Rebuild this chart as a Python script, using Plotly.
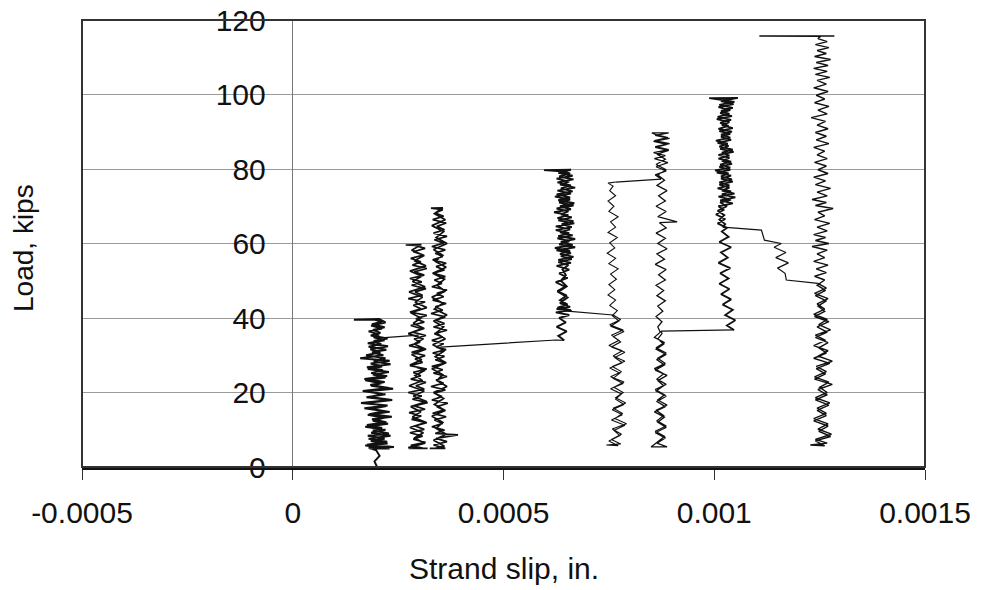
import plotly.graph_objects as go

# ---- data: (strand slip [in.], load [kips]) ----
col1 = [
    (2.00e-4, 0.0), (1.94e-4, 1.5), (2.06e-4, 3.0), (1.98e-4, 4.5),
    (1.80e-4, 5.2), (2.30e-4, 5.0), (1.72e-4, 5.8), (2.25e-4, 6.3), (1.85e-4, 7.0), (2.18e-4, 7.6),
    (1.78e-4, 8.4), (2.28e-4, 9.0), (1.90e-4, 9.8), (2.12e-4, 10.5), (1.76e-4, 11.3), (2.22e-4, 12.0),
    (1.88e-4, 12.8), (2.35e-4, 13.5), (1.82e-4, 14.2), (2.15e-4, 15.0), (1.70e-4, 15.8), (2.25e-4, 16.5),
    (1.62e-4, 17.2), (2.30e-4, 18.0), (1.75e-4, 18.7), (2.20e-4, 19.5), (1.80e-4, 20.3), (2.38e-4, 21.0),
    (1.86e-4, 21.8), (2.10e-4, 22.5), (1.72e-4, 23.3), (2.20e-4, 24.0), (1.90e-4, 24.8), (2.28e-4, 25.5),
    (1.78e-4, 26.3), (2.12e-4, 27.0), (1.85e-4, 27.8), (2.30e-4, 28.5), (1.60e-4, 29.2), (2.15e-4, 30.0),
    (1.88e-4, 30.8), (2.22e-4, 31.5), (1.80e-4, 32.3), (2.10e-4, 33.0), (1.92e-4, 33.8), (2.25e-4, 34.5),
    (1.85e-4, 35.3), (2.08e-4, 36.0), (1.90e-4, 36.8), (2.18e-4, 37.5), (1.88e-4, 38.3), (2.12e-4, 39.0),
    (1.95e-4, 39.5), (1.45e-4, 39.5), (2.05e-4, 39.7),
    (2.20e-4, 38.8), (1.86e-4, 38.0), (2.12e-4, 37.2), (1.80e-4, 36.4), (2.05e-4, 35.6), (1.92e-4, 34.8),
    (2.18e-4, 34.0), (1.78e-4, 33.2), (2.26e-4, 32.4), (1.84e-4, 31.6), (2.08e-4, 30.8), (1.74e-4, 30.0),
    (2.20e-4, 29.2), (1.92e-4, 28.4), (2.32e-4, 27.6), (1.76e-4, 26.8), (2.14e-4, 26.0), (1.86e-4, 25.2),
    (2.24e-4, 24.4), (1.70e-4, 23.6), (2.18e-4, 22.8), (1.84e-4, 22.0), (2.28e-4, 21.2), (1.66e-4, 20.4),
    (2.14e-4, 19.6), (1.82e-4, 18.8), (2.36e-4, 18.0), (1.74e-4, 17.2), (2.22e-4, 16.4), (1.88e-4, 15.6),
    (2.30e-4, 14.8), (1.78e-4, 14.0), (2.16e-4, 13.2), (1.90e-4, 12.4), (2.26e-4, 11.6), (1.72e-4, 10.8),
    (2.20e-4, 10.0), (1.86e-4, 9.2), (2.32e-4, 8.4), (1.80e-4, 7.6), (2.24e-4, 6.8), (1.76e-4, 6.0),
    (2.40e-4, 5.4), (1.82e-4, 5.0), (2.20e-4, 5.0),
]
link12 = [(2.02e-4, 34.6), (2.99e-4, 35.4)]

col2 = [
    (2.75e-4, 5.0), (3.10e-4, 5.0), (2.80e-4, 5.8), (3.15e-4, 6.6), (2.86e-4, 7.5), (3.08e-4, 8.3),
    (2.78e-4, 9.2), (3.12e-4, 10.1), (2.90e-4, 11.0), (3.18e-4, 11.9), (2.82e-4, 12.8), (3.05e-4, 13.7),
    (2.76e-4, 14.6), (3.14e-4, 15.5), (2.88e-4, 16.4), (3.20e-4, 17.3), (2.84e-4, 18.2), (3.06e-4, 19.1),
    (2.74e-4, 20.0), (3.12e-4, 20.9), (2.92e-4, 21.8), (3.16e-4, 22.7), (2.80e-4, 23.6), (3.04e-4, 24.5),
    (2.86e-4, 25.4), (3.18e-4, 26.3), (2.78e-4, 27.2), (3.08e-4, 28.1), (2.90e-4, 29.0), (3.14e-4, 29.9),
    (2.82e-4, 30.8), (3.10e-4, 31.7), (2.76e-4, 32.6), (3.02e-4, 33.5), (2.88e-4, 34.4), (3.16e-4, 35.3),
    (2.84e-4, 36.2), (3.06e-4, 37.1), (2.80e-4, 38.0), (3.12e-4, 38.9), (2.92e-4, 39.8), (3.18e-4, 40.7),
    (2.78e-4, 41.6), (3.04e-4, 42.5), (2.86e-4, 43.4), (3.14e-4, 44.3), (2.74e-4, 45.2), (3.08e-4, 46.1),
    (2.90e-4, 47.0), (3.16e-4, 47.9), (2.82e-4, 48.8), (3.06e-4, 49.7), (2.78e-4, 50.6), (3.12e-4, 51.5),
    (2.88e-4, 52.4), (3.18e-4, 53.3), (2.84e-4, 54.2), (3.04e-4, 55.1), (2.80e-4, 56.0), (3.10e-4, 56.9),
    (2.86e-4, 57.8), (3.14e-4, 58.7), (2.90e-4, 59.5), (2.68e-4, 59.6), (3.05e-4, 59.7),
    (2.82e-4, 58.2), (3.12e-4, 56.8), (2.88e-4, 55.4), (3.16e-4, 54.0), (2.78e-4, 52.6), (3.06e-4, 51.2),
    (2.84e-4, 49.8), (3.14e-4, 48.4), (2.76e-4, 47.0), (3.08e-4, 45.6), (2.90e-4, 44.2), (3.18e-4, 42.8),
    (2.80e-4, 41.4), (3.04e-4, 40.0), (2.86e-4, 38.6), (3.12e-4, 37.2), (2.74e-4, 35.8), (3.10e-4, 34.4),
    (2.88e-4, 33.0), (3.16e-4, 31.6), (2.82e-4, 30.2), (3.06e-4, 28.8), (2.78e-4, 27.4), (3.14e-4, 26.0),
    (2.90e-4, 24.6), (3.08e-4, 23.2), (2.76e-4, 21.8), (3.12e-4, 20.4), (2.86e-4, 19.0), (3.18e-4, 17.6),
    (2.80e-4, 16.2), (3.04e-4, 14.8), (2.84e-4, 13.4), (3.16e-4, 12.0), (2.78e-4, 10.6), (3.10e-4, 9.2),
    (2.88e-4, 7.8), (3.14e-4, 6.4), (2.74e-4, 5.2), (3.20e-4, 5.0),
]

col3 = [
    (3.25e-4, 5.0), (3.62e-4, 5.0), (3.34e-4, 5.9), (3.66e-4, 6.8), (3.40e-4, 7.7), (3.92e-4, 8.6),
    (3.38e-4, 9.0), (3.60e-4, 9.9), (3.30e-4, 10.8), (3.56e-4, 11.7), (3.36e-4, 12.6), (3.64e-4, 13.5),
    (3.32e-4, 14.4), (3.58e-4, 15.3), (3.42e-4, 16.2), (3.68e-4, 17.1), (3.30e-4, 18.0), (3.54e-4, 18.9),
    (3.36e-4, 19.8), (3.62e-4, 20.7), (3.28e-4, 21.6), (3.58e-4, 22.5), (3.40e-4, 23.4), (3.66e-4, 24.3),
    (3.34e-4, 25.2), (3.56e-4, 26.1), (3.30e-4, 27.0), (3.62e-4, 27.9), (3.38e-4, 28.8), (3.60e-4, 29.7),
    (3.32e-4, 30.6), (3.64e-4, 31.5), (3.40e-4, 32.2), (3.58e-4, 33.1), (3.30e-4, 34.0), (3.56e-4, 34.9),
    (3.36e-4, 35.8), (3.66e-4, 36.7), (3.34e-4, 37.6), (3.60e-4, 38.5), (3.40e-4, 39.4), (3.62e-4, 40.3),
    (3.28e-4, 41.2), (3.56e-4, 42.1), (3.38e-4, 43.0), (3.64e-4, 43.9), (3.32e-4, 44.8), (3.58e-4, 45.7),
    (3.42e-4, 46.6), (3.66e-4, 47.5), (3.30e-4, 48.4), (3.54e-4, 49.3), (3.36e-4, 50.2), (3.62e-4, 51.1),
    (3.34e-4, 52.0), (3.60e-4, 52.9), (3.40e-4, 53.8), (3.64e-4, 54.7), (3.32e-4, 55.6), (3.56e-4, 56.5),
    (3.38e-4, 57.4), (3.62e-4, 58.3), (3.30e-4, 59.2), (3.58e-4, 60.1), (3.36e-4, 61.0), (3.66e-4, 61.9),
    (3.34e-4, 62.8), (3.60e-4, 63.7), (3.42e-4, 64.6), (3.64e-4, 65.5), (3.32e-4, 66.4), (3.58e-4, 67.3),
    (3.38e-4, 68.2), (3.56e-4, 69.1), (3.28e-4, 69.5), (3.56e-4, 69.6),
    (3.36e-4, 68.0), (3.62e-4, 66.4), (3.30e-4, 64.8), (3.58e-4, 63.2), (3.40e-4, 61.6), (3.66e-4, 60.0),
    (3.34e-4, 58.4), (3.56e-4, 56.8), (3.38e-4, 55.2), (3.64e-4, 53.6), (3.32e-4, 52.0), (3.60e-4, 50.4),
    (3.42e-4, 48.8), (3.62e-4, 47.2), (3.30e-4, 45.6), (3.56e-4, 44.0), (3.36e-4, 42.4), (3.66e-4, 40.8),
    (3.34e-4, 39.2), (3.58e-4, 37.6), (3.40e-4, 36.0), (3.62e-4, 34.4), (3.32e-4, 32.8), (3.60e-4, 31.2),
    (3.38e-4, 29.6), (3.64e-4, 28.0), (3.30e-4, 26.4), (3.56e-4, 24.8), (3.42e-4, 23.2), (3.66e-4, 21.6),
    (3.34e-4, 20.0), (3.58e-4, 18.4), (3.36e-4, 16.8), (3.62e-4, 15.2), (3.30e-4, 13.6), (3.56e-4, 12.0),
    (3.40e-4, 10.4), (3.64e-4, 8.8), (3.34e-4, 7.2), (3.60e-4, 5.6), (3.38e-4, 5.0),
]
link34 = [(3.50e-4, 32.2), (6.25e-4, 34.1), (6.44e-4, 34.0)]

col4 = [
    (6.44e-4, 34.0), (6.30e-4, 35.2), (6.50e-4, 36.4), (6.26e-4, 37.6), (6.48e-4, 38.8), (6.32e-4, 40.0),
    (6.56e-4, 40.8), (6.24e-4, 41.5), (6.60e-4, 42.1), (6.28e-4, 42.8), (6.52e-4, 43.6), (6.34e-4, 44.8),
    (6.50e-4, 46.0), (6.28e-4, 47.2), (6.46e-4, 48.4), (6.24e-4, 49.6), (6.52e-4, 50.8), (6.32e-4, 52.0),
    (6.56e-4, 53.0), (6.26e-4, 54.0), (6.60e-4, 54.8), (6.30e-4, 55.6), (6.66e-4, 56.4), (6.34e-4, 57.2),
    (6.58e-4, 58.0), (6.22e-4, 58.8), (6.64e-4, 59.6), (6.36e-4, 60.4), (6.70e-4, 61.2), (6.30e-4, 62.0),
    (6.56e-4, 62.8), (6.24e-4, 63.6), (6.62e-4, 64.4), (6.38e-4, 65.2), (6.66e-4, 66.0), (6.28e-4, 66.8),
    (6.54e-4, 67.6), (6.20e-4, 68.4), (6.60e-4, 69.2), (6.34e-4, 70.0), (6.68e-4, 70.8), (6.30e-4, 71.6),
    (6.58e-4, 72.4), (6.26e-4, 73.2), (6.64e-4, 74.0), (6.36e-4, 74.8), (6.60e-4, 75.6), (6.28e-4, 76.4),
    (6.66e-4, 77.2), (6.32e-4, 78.0), (6.58e-4, 78.8), (6.36e-4, 79.4), (5.96e-4, 79.7), (6.60e-4, 79.8),
    (6.30e-4, 79.0), (6.64e-4, 78.2), (6.26e-4, 77.4), (6.56e-4, 76.6), (6.34e-4, 75.8), (6.70e-4, 75.0),
    (6.28e-4, 74.2), (6.60e-4, 73.4), (6.22e-4, 72.6), (6.58e-4, 71.8), (6.32e-4, 71.0), (6.66e-4, 70.2),
    (6.26e-4, 69.4), (6.54e-4, 68.6), (6.36e-4, 67.8), (6.62e-4, 67.0), (6.30e-4, 66.2), (6.68e-4, 65.4),
    (6.24e-4, 64.6), (6.58e-4, 63.8), (6.34e-4, 63.0), (6.64e-4, 62.2), (6.28e-4, 61.4), (6.56e-4, 60.6),
    (6.32e-4, 59.8), (6.70e-4, 59.0), (6.26e-4, 58.2), (6.60e-4, 57.4), (6.36e-4, 56.6), (6.62e-4, 55.8),
    (6.30e-4, 55.0), (6.54e-4, 54.2), (6.40e-4, 53.0), (6.48e-4, 51.5), (6.36e-4, 50.0), (6.50e-4, 48.5),
    (6.30e-4, 47.0), (6.52e-4, 45.5), (6.34e-4, 44.0), (6.58e-4, 43.0), (6.26e-4, 42.4), (6.62e-4, 41.9),
]
link45 = [(6.44e-4, 41.9), (7.60e-4, 40.8)]

col5 = [
    (7.60e-4, 40.8), (7.78e-4, 39.6), (7.52e-4, 38.2), (7.84e-4, 36.8), (7.56e-4, 35.4), (7.74e-4, 34.0),
    (7.50e-4, 32.6), (7.82e-4, 31.2), (7.60e-4, 29.8), (7.88e-4, 28.4), (7.58e-4, 27.0), (7.80e-4, 25.6),
    (7.54e-4, 24.2), (7.86e-4, 22.8), (7.62e-4, 21.4), (7.84e-4, 20.0), (7.66e-4, 18.6), (7.90e-4, 17.2),
    (7.60e-4, 15.8), (7.82e-4, 14.4), (7.64e-4, 13.0), (7.92e-4, 11.6), (7.58e-4, 10.2), (7.80e-4, 8.8),
    (7.56e-4, 7.4), (7.78e-4, 6.2), (7.44e-4, 5.9), (7.72e-4, 5.7),
    (7.50e-4, 7.0), (7.76e-4, 8.4), (7.62e-4, 9.8), (7.88e-4, 11.2), (7.56e-4, 12.6), (7.82e-4, 14.0),
    (7.58e-4, 15.4), (7.86e-4, 16.8), (7.66e-4, 18.2), (7.80e-4, 19.6), (7.54e-4, 21.0), (7.84e-4, 22.4),
    (7.60e-4, 23.8), (7.76e-4, 25.2), (7.52e-4, 26.6), (7.82e-4, 28.0), (7.64e-4, 29.4), (7.88e-4, 30.8),
    (7.56e-4, 32.2), (7.78e-4, 33.6), (7.60e-4, 35.0), (7.86e-4, 36.4), (7.54e-4, 37.8), (7.74e-4, 39.2),
    (7.58e-4, 40.6), (7.70e-4, 42.0), (7.52e-4, 43.4), (7.66e-4, 44.8), (7.48e-4, 46.2), (7.64e-4, 47.6),
    (7.50e-4, 49.0), (7.68e-4, 50.4), (7.54e-4, 51.8), (7.72e-4, 53.2), (7.50e-4, 54.6), (7.66e-4, 56.0),
    (7.46e-4, 57.4), (7.64e-4, 58.8), (7.52e-4, 60.2), (7.70e-4, 61.6), (7.48e-4, 63.0), (7.66e-4, 64.4),
    (7.54e-4, 65.8), (7.72e-4, 67.2), (7.50e-4, 68.6), (7.62e-4, 70.0), (7.48e-4, 71.4), (7.66e-4, 72.8),
    (7.52e-4, 74.2), (7.60e-4, 75.4), (7.48e-4, 76.2), (7.66e-4, 76.5),
]
link56 = [(7.66e-4, 76.5), (8.74e-4, 77.3)]

col6 = [
    (8.74e-4, 77.3), (8.60e-4, 78.4), (8.86e-4, 79.5), (8.62e-4, 80.6), (8.90e-4, 81.7), (8.58e-4, 82.8),
    (8.84e-4, 83.6), (8.56e-4, 84.4), (8.92e-4, 85.2), (8.60e-4, 86.0), (8.94e-4, 86.8), (8.58e-4, 87.6),
    (8.90e-4, 88.4), (8.62e-4, 89.2), (8.52e-4, 89.7), (8.92e-4, 89.7),
    (8.60e-4, 89.0), (8.94e-4, 88.2), (8.56e-4, 87.4), (8.88e-4, 86.6), (8.60e-4, 85.8), (8.92e-4, 85.0),
    (8.64e-4, 84.0), (8.84e-4, 82.6), (8.62e-4, 81.2), (8.86e-4, 79.8), (8.66e-4, 78.4), (8.82e-4, 77.0),
    (8.64e-4, 75.6), (8.88e-4, 74.2), (8.68e-4, 72.8), (8.84e-4, 71.4), (8.62e-4, 70.0), (8.86e-4, 68.6),
    (8.66e-4, 67.2), (9.12e-4, 65.8), (8.70e-4, 65.6), (8.86e-4, 64.2), (8.62e-4, 62.8), (8.84e-4, 61.4),
    (8.66e-4, 60.0), (8.88e-4, 58.6), (8.64e-4, 57.2), (8.82e-4, 55.8), (8.60e-4, 54.4), (8.86e-4, 53.0),
    (8.68e-4, 51.6), (8.84e-4, 50.2), (8.62e-4, 48.8), (8.80e-4, 47.4), (8.64e-4, 46.0), (8.84e-4, 44.6),
    (8.66e-4, 43.2), (8.78e-4, 41.8), (8.62e-4, 40.4), (8.76e-4, 39.0), (8.66e-4, 37.6), (8.72e-4, 36.2),
    (8.58e-4, 34.8), (8.82e-4, 33.4), (8.62e-4, 32.0), (8.86e-4, 30.6), (8.66e-4, 29.2), (8.84e-4, 27.8),
    (8.58e-4, 26.4), (8.80e-4, 25.0), (8.64e-4, 23.6), (8.86e-4, 22.2), (8.60e-4, 20.8), (8.82e-4, 19.4),
    (8.66e-4, 18.0), (8.88e-4, 16.6), (8.62e-4, 15.2), (8.80e-4, 13.8), (8.64e-4, 12.4), (8.86e-4, 11.0),
    (8.60e-4, 9.6), (8.82e-4, 8.2), (8.66e-4, 6.8), (8.50e-4, 5.4), (8.88e-4, 5.4),
    (8.64e-4, 6.4), (8.84e-4, 7.8), (8.60e-4, 9.2), (8.86e-4, 10.6), (8.66e-4, 12.0), (8.82e-4, 13.4),
    (8.58e-4, 14.8), (8.84e-4, 16.2), (8.64e-4, 17.6), (8.86e-4, 19.0), (8.62e-4, 20.4), (8.80e-4, 21.8),
    (8.66e-4, 23.2), (8.88e-4, 24.6), (8.60e-4, 26.0), (8.82e-4, 27.4), (8.64e-4, 28.8), (8.86e-4, 30.2),
    (8.62e-4, 31.6), (8.80e-4, 33.0), (8.66e-4, 34.4), (8.76e-4, 35.8), (8.74e-4, 36.5),
]
link67 = [(8.74e-4, 36.5), (1.047e-3, 36.8)]

col7 = [
    (1.047e-3, 36.8), (1.030e-3, 38.0), (1.050e-3, 39.4), (1.026e-3, 40.8), (1.044e-3, 42.2), (1.020e-3, 43.6),
    (1.040e-3, 45.0), (1.016e-3, 46.4), (1.036e-3, 47.8), (1.012e-3, 49.2), (1.034e-3, 50.6), (1.014e-3, 52.0),
    (1.038e-3, 53.4), (1.010e-3, 54.8), (1.032e-3, 56.2), (1.016e-3, 57.6), (1.040e-3, 59.0), (1.012e-3, 60.4),
    (1.034e-3, 61.8), (1.018e-3, 63.2), (1.030e-3, 64.2), (1.008e-3, 65.4), (1.026e-3, 66.6), (1.004e-3, 67.8),
    (1.022e-3, 69.0), (1.010e-3, 70.0), (1.044e-3, 70.8), (1.014e-3, 71.6), (1.050e-3, 72.4), (1.018e-3, 73.2),
    (1.040e-3, 74.0), (1.008e-3, 74.8), (1.036e-3, 75.6), (1.012e-3, 76.4), (1.042e-3, 77.2), (1.016e-3, 78.0),
    (1.034e-3, 78.8), (1.002e-3, 79.6), (1.038e-3, 80.4), (1.014e-3, 81.2), (1.040e-3, 82.0), (1.010e-3, 82.8),
    (1.036e-3, 83.6), (1.018e-3, 84.4), (1.044e-3, 85.2), (1.012e-3, 86.0), (1.032e-3, 86.8), (1.004e-3, 87.6),
    (1.038e-3, 88.4), (1.016e-3, 89.2), (1.042e-3, 90.0), (1.010e-3, 90.8), (1.034e-3, 91.6), (1.014e-3, 92.4),
    (1.040e-3, 93.2), (1.008e-3, 94.0), (1.036e-3, 94.8), (1.016e-3, 95.6), (1.044e-3, 96.4), (1.012e-3, 97.2),
    (1.048e-3, 98.0), (1.018e-3, 98.6), (9.88e-4, 99.0), (1.056e-3, 99.1),
    (1.016e-3, 98.2), (1.046e-3, 97.4), (1.010e-3, 96.6), (1.038e-3, 95.8), (1.014e-3, 95.0), (1.042e-3, 94.2),
    (1.006e-3, 93.4), (1.036e-3, 92.6), (1.018e-3, 91.8), (1.044e-3, 91.0), (1.012e-3, 90.2), (1.038e-3, 89.4),
    (1.016e-3, 88.6), (1.040e-3, 87.8), (1.008e-3, 87.0), (1.034e-3, 86.2), (1.014e-3, 85.4), (1.046e-3, 84.6),
    (1.010e-3, 83.8), (1.036e-3, 83.0), (1.018e-3, 82.2), (1.042e-3, 81.4), (1.012e-3, 80.6), (1.038e-3, 79.8),
    (1.006e-3, 79.0), (1.040e-3, 78.2), (1.016e-3, 77.4), (1.044e-3, 76.6), (1.012e-3, 75.8), (1.036e-3, 75.0),
    (1.018e-3, 74.2), (1.048e-3, 73.4), (1.010e-3, 72.6), (1.040e-3, 71.8), (1.014e-3, 71.0), (1.030e-3, 70.0),
    (1.008e-3, 68.8), (1.024e-3, 67.6), (1.012e-3, 66.4), (1.026e-3, 65.2), (1.020e-3, 64.4),
]
link78 = [
    (1.020e-3, 64.4), (1.112e-3, 63.6), (1.119e-3, 60.9), (1.159e-3, 60.0), (1.142e-3, 59.0),
    (1.170e-3, 57.6), (1.146e-3, 56.2), (1.176e-3, 54.8), (1.150e-3, 53.4), (1.168e-3, 52.0),
    (1.171e-3, 50.2), (1.246e-3, 49.3),
]

col8 = [
    (1.246e-3, 49.3), (1.266e-3, 48.0), (1.238e-3, 46.6), (1.270e-3, 45.2), (1.244e-3, 43.8), (1.262e-3, 42.4),
    (1.236e-3, 41.0), (1.268e-3, 39.6), (1.248e-3, 38.2), (1.276e-3, 36.8), (1.240e-3, 35.4), (1.264e-3, 34.0),
    (1.236e-3, 32.6), (1.270e-3, 31.2), (1.246e-3, 29.8), (1.280e-3, 28.4), (1.242e-3, 27.0), (1.266e-3, 25.6),
    (1.238e-3, 24.2), (1.272e-3, 22.8), (1.250e-3, 21.4), (1.268e-3, 20.0), (1.240e-3, 18.6), (1.274e-3, 17.2),
    (1.244e-3, 15.8), (1.266e-3, 14.4), (1.236e-3, 13.0), (1.270e-3, 11.6), (1.246e-3, 10.2), (1.278e-3, 8.8),
    (1.240e-3, 7.4), (1.268e-3, 6.4), (1.228e-3, 5.9), (1.262e-3, 5.7),
    (1.240e-3, 7.0), (1.276e-3, 8.2), (1.248e-3, 9.6), (1.270e-3, 11.0), (1.236e-3, 12.4), (1.266e-3, 13.8),
    (1.244e-3, 15.2), (1.272e-3, 16.6), (1.240e-3, 18.0), (1.268e-3, 19.4), (1.246e-3, 20.8), (1.280e-3, 22.2),
    (1.238e-3, 23.6), (1.264e-3, 25.0), (1.242e-3, 26.4), (1.274e-3, 27.8), (1.236e-3, 29.2), (1.266e-3, 30.6),
    (1.248e-3, 32.0), (1.270e-3, 33.4), (1.240e-3, 34.8), (1.268e-3, 36.2), (1.244e-3, 37.6), (1.272e-3, 39.0),
    (1.238e-3, 40.4), (1.262e-3, 41.8), (1.246e-3, 43.2), (1.266e-3, 44.6), (1.240e-3, 46.0), (1.264e-3, 47.4),
    (1.244e-3, 48.8), (1.262e-3, 50.2),
    (1.238e-3, 51.2), (1.266e-3, 52.2), (1.242e-3, 53.2), (1.270e-3, 54.2), (1.236e-3, 55.2), (1.262e-3, 56.2),
    (1.244e-3, 57.2), (1.268e-3, 58.2), (1.232e-3, 59.2), (1.272e-3, 60.0), (1.240e-3, 60.8), (1.264e-3, 61.6),
    (1.236e-3, 62.4), (1.268e-3, 63.4), (1.244e-3, 64.4), (1.274e-3, 65.4), (1.238e-3, 66.4), (1.262e-3, 67.4),
    (1.246e-3, 68.4), (1.282e-3, 69.4), (1.240e-3, 70.2), (1.266e-3, 71.0), (1.232e-3, 71.8), (1.268e-3, 72.8),
    (1.244e-3, 73.8), (1.276e-3, 74.8), (1.240e-3, 75.8), (1.264e-3, 76.8), (1.236e-3, 77.8), (1.270e-3, 78.8),
    (1.246e-3, 79.8), (1.266e-3, 80.8), (1.238e-3, 81.8), (1.268e-3, 82.8), (1.244e-3, 83.8), (1.262e-3, 84.8),
    (1.236e-3, 85.8), (1.272e-3, 86.8), (1.242e-3, 87.8), (1.266e-3, 88.8), (1.240e-3, 89.8), (1.270e-3, 90.8),
    (1.244e-3, 91.8), (1.264e-3, 92.8), (1.230e-3, 93.8), (1.268e-3, 94.8), (1.246e-3, 95.8), (1.272e-3, 96.8),
    (1.238e-3, 97.8), (1.262e-3, 98.8), (1.242e-3, 99.8), (1.270e-3, 100.8), (1.236e-3, 101.8), (1.266e-3, 102.8),
    (1.244e-3, 103.8), (1.274e-3, 104.6), (1.240e-3, 105.4), (1.268e-3, 106.2), (1.236e-3, 107.0), (1.270e-3, 107.8),
    (1.242e-3, 108.6), (1.276e-3, 109.4), (1.238e-3, 110.2), (1.266e-3, 111.0), (1.244e-3, 111.8), (1.272e-3, 112.6),
    (1.240e-3, 113.4), (1.268e-3, 114.2), (1.246e-3, 115.0), (1.252e-3, 115.6), (1.107e-3, 115.7), (1.285e-3, 115.7),
]

x_tick_vals = [-0.0005, 0, 0.0005, 0.001, 0.0015]
x_tick_text = ["-0.0005", "0", "0.0005", "0.001", "0.0015"]
y_tick_vals = [0, 20, 40, 60, 80, 100, 120]
y_tick_text = ["0", "20", "40", "60", "80", "100", "120"]

# (segment, stroke width) -- denser traces look heavier in the scan
segments = [(col1, 2.0), (link12, 1.2), (col2, 1.7), (col3, 1.7), (link34, 1.2),
            (col4, 1.9), (link45, 1.2), (col5, 1.1), (link56, 1.2), (col6, 1.3),
            (link67, 1.2), (col7, 1.8), (link78, 1.2), (col8, 1.4)]

FONT = "Liberation Sans, Arial, sans-serif"
fig = go.Figure()
for seg, w in segments:
    xs, ys = zip(*seg)
    fig.add_trace(go.Scatter(x=list(xs), y=list(ys), mode="lines",
                             line=dict(color="#111111", width=w),
                             showlegend=False, hoverinfo="skip"))

# the page body adds an 8px offset, so the figure is 8px smaller and margins shifted
fig.update_layout(
    width=975, height=582,
    margin=dict(l=74, r=58, t=12, b=123),
    paper_bgcolor="white", plot_bgcolor="white",
    font=dict(family=FONT, size=30, color="#111111"),
    showlegend=False,
    xaxis=dict(
        range=[-0.0005, 0.0015], tickvals=x_tick_vals, ticktext=x_tick_text,
        ticks="outside", ticklen=10, tickwidth=1, tickcolor="#333333",
        showgrid=False, zeroline=True, zerolinecolor="#777777", zerolinewidth=1,
        showline=True, linecolor="#111111", linewidth=3, automargin=False,
        ticklabelstandoff=7, tickfont=dict(size=30), ticklabeloverflow="allow",
    ),
    yaxis=dict(
        range=[0, 120], tickvals=y_tick_vals, ticktext=y_tick_text,
        anchor="free", position=0.25, showline=False, ticks="", automargin=False,
        showgrid=True, gridcolor="#9a9a9a", gridwidth=1, zeroline=False,
        ticklabelstandoff=27, tickfont=dict(size=30), ticklabeloverflow="allow",
    ),
    shapes=[dict(type="rect", xref="paper", yref="paper", x0=0, x1=1, y0=0, y1=1,
                 line=dict(color="#333333", width=2), layer="above")],
    annotations=[
        dict(text="Load, kips", xref="paper", yref="paper", x=-0.0688, y=0.49,
             textangle=-90, showarrow=False, font=dict(size=28),
             xanchor="center", yanchor="middle"),
        dict(text="Strand slip, in.", xref="paper", yref="paper", x=0.5, y=-0.226,
             showarrow=False, font=dict(size=30), xanchor="center", yanchor="middle"),
    ],
)

fig.write_html("out.html")
